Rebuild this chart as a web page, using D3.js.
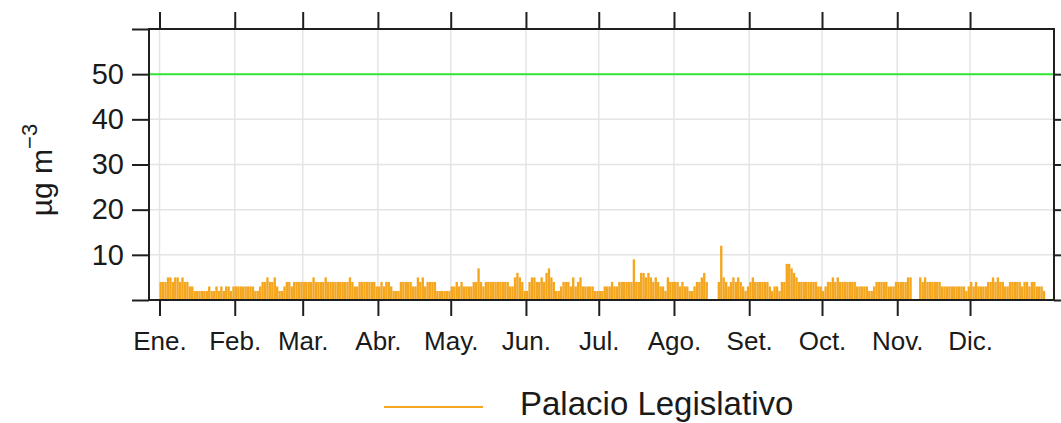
<!DOCTYPE html>
<html>
<head>
<meta charset="utf-8">
<script src="https://cdn.jsdelivr.net/npm/d3@7"></script>
<style>
  html, body { margin: 0; padding: 0; background: #fff; }
  svg { display: block; font-family: 'Liberation Sans', Arial, sans-serif; }
</style>
</head>
<body>
<div id="chart"></div>
<script>
// etiquetas de los meses
const monthLabels = ['Ene.', 'Feb.', 'Mar.', 'Abr.', 'May.', 'Jun.', 'Jul.', 'Ago.', 'Set.', 'Oct.', 'Nov.', 'Dic.'];

// promedios diarios (µg m-3), un arreglo por mes, null = sin dato
const ene = [4, 4, 4, 5, 5, 4, 5, 5, 4, 5, 4, 4, 3, 3, 2, 2, 2, 2, 2, 2, 3, 2, 2, 3, 2, 3, 2, 3, 3, 2, 3];
const feb = [3, 3, 3, 3, 3, 3, 3, 3, 2, 2, 3, 4, 4, 5, 4, 4, 5, 3, 2, 2, 3, 4, 4, 3, 4, 4, 4, 4];
const mar = [4, 4, 4, 4, 5, 4, 4, 4, 4, 5, 4, 4, 4, 4, 4, 4, 4, 4, 4, 5, 4, 3, 3, 4, 4, 4, 4, 4, 4, 4, 3];
const abr = [3, 4, 3, 4, 4, 3, 2, 2, 2, 4, 4, 4, 4, 4, 3, 3, 5, 4, 5, 3, 4, 4, 4, 4, 2, 2, 2, 2, 2, 2];
const may = [3, 3, 4, 3, 4, 3, 3, 3, 3, 4, 4, 7, 4, 3, 4, 4, 4, 4, 4, 4, 4, 4, 4, 4, 3, 3, 5, 6, 5, 4, 2];
const jun = [2, 4, 5, 5, 4, 4, 5, 4, 6, 7, 5, 4, 2, 2, 3, 4, 4, 4, 3, 5, 3, 4, 5, 3, 3, 3, 3, 3, 2, 2];
const jul = [2, 2, 3, 3, 3, 4, 3, 3, 4, 4, 4, 4, 4, 4, 9, 4, 4, 6, 6, 5, 6, 5, 4, 5, 4, 3, 3, 2, 5, 4, 4];
const ago = [4, 4, 3, 4, 3, 3, 2, 2, 3, 4, 4, 5, 6, 4, null, null, null, null, 4, 12, 5, 4, 3, 4, 5, 4, 5, 4, 3, 2, 3];
const set = [4, 5, 4, 4, 4, 4, 4, 4, 3, 2, 3, 3, 2, 4, 4, 8, 8, 7, 6, 5, 4, 4, 4, 4, 4, 4, 4, 4, 3, 3];
const oct = [2, 3, 4, 4, 5, 4, 5, 4, 4, 4, 4, 4, 4, 4, 3, 3, 3, 3, 3, 2, 2, 3, 4, 4, 4, 4, 4, 3, 3, 3, 4];
const nov = [4, 4, 4, 4, 5, 5, null, null, null, 5, 4, 5, 4, 4, 4, 4, 4, 4, 3, 3, 3, 3, 3, 3, 3, 3, 3, 3, 2, 3];
const dic = [4, 3, 4, 3, 3, 3, 3, 4, 4, 5, 4, 5, 4, 4, 3, 3, 4, 4, 4, 4, 4, 3, 4, 4, 3, 4, 4, 3, 3, 3, 2];

// valor guía (línea verde)
const limitValue = 50;
const yTicks = [0, 10, 20, 30, 40, 50, 60];
const yTickLabels = ['', '10', '20', '30', '40', '50', ''];
const seriesName = 'Palacio Legislativo';

const WIDTH = 1061;
const HEIGHT = 423;
const LEFT = 149;
const RIGHT = 1054;
const TOP = 29;
const BOTTOM = 300;
const BAR_COLOR = '#f4a61f';
const LINE_COLOR = '#33e633';
const AXIS_COLOR = '#1f1f1f';
const GRID_COLOR = '#e4e4e4';
const DAY = 864e5;

const yearStart = new Date(Date.UTC(2019, 0, 1));
const yearEnd = new Date(Date.UTC(2020, 0, 1));

const data = [ene, feb, mar, abr, may, jun, jul, ago, set, oct, nov, dic]
  .flat()
  .map((value, i) => ({ date: d3.utcDay.offset(yearStart, i), value: value }));

const x = d3
  .scaleUtc()
  .domain([new Date(yearStart.getTime() - 4.33 * DAY), new Date(yearStart.getTime() + 368.6 * DAY)])
  .range([LEFT, RIGHT]);

const y = d3.scaleLinear().domain([0, 60]).range([BOTTOM, TOP]);

const monthTicks = d3.utcMonths(yearStart, yearEnd);

const svg = d3
  .select('#chart')
  .append('svg')
  .attr('width', WIDTH)
  .attr('height', HEIGHT);

// grilla
svg
  .append('g')
  .selectAll('line')
  .data(monthTicks)
  .enter()
  .append('line')
  .attr('x1', (d) => x(d))
  .attr('x2', (d) => x(d))
  .attr('y1', TOP)
  .attr('y2', BOTTOM)
  .attr('stroke', GRID_COLOR)
  .attr('stroke-width', 1.5);

svg
  .append('g')
  .selectAll('line')
  .data(yTicks.slice(1, -1))
  .enter()
  .append('line')
  .attr('x1', LEFT)
  .attr('x2', RIGHT)
  .attr('y1', (d) => y(d))
  .attr('y2', (d) => y(d))
  .attr('stroke', GRID_COLOR)
  .attr('stroke-width', 1.5);

// barras diarias
svg
  .append('g')
  .selectAll('rect')
  .data(data.filter((d) => d.value !== null))
  .enter()
  .append('rect')
  .attr('x', (d) => x(d.date))
  .attr('width', (d) => (x(d3.utcDay.offset(d.date, 1)) - x(d.date)) * 0.97)
  .attr('y', (d) => y(d.value))
  .attr('height', (d) => y(0) - y(d.value))
  .attr('fill', BAR_COLOR);

// línea del límite
svg
  .append('line')
  .attr('x1', LEFT)
  .attr('x2', RIGHT)
  .attr('y1', y(limitValue))
  .attr('y2', y(limitValue))
  .attr('stroke', LINE_COLOR)
  .attr('stroke-width', 2);

// ejes
const axisBottom = svg
  .append('g')
  .attr('transform', `translate(0,${BOTTOM})`)
  .call(d3.axisBottom(x).tickValues(monthTicks).tickSize(16).tickPadding(16).tickFormat((d, i) => monthLabels[i]));

const axisTop = svg
  .append('g')
  .attr('transform', `translate(0,${TOP})`)
  .call(d3.axisTop(x).tickValues(monthTicks).tickSize(17).tickFormat(''));

const axisLeft = svg
  .append('g')
  .attr('transform', `translate(${LEFT},0)`)
  .call(d3.axisLeft(y).tickValues(yTicks).tickSize(17).tickPadding(8).tickFormat((d, i) => yTickLabels[i]));

const axisRight = svg
  .append('g')
  .attr('transform', `translate(${RIGHT},0)`)
  .call(d3.axisRight(y).tickValues(yTicks.slice(0, -1)).tickSize(10).tickFormat(''));

[axisBottom, axisTop, axisLeft, axisRight].forEach((g) => {
  g.select('.domain').remove();
  g.selectAll('line').attr('stroke', AXIS_COLOR).attr('stroke-width', 2);
  g.selectAll('text')
    .attr('fill', '#1a1a1a')
    .attr('font-size', 26)
    .attr('font-family', "'Liberation Sans', Arial, sans-serif");
});

// los números del eje y se ven algo más grandes
axisLeft.selectAll('text').attr('font-size', 29);

// marco
svg
  .append('rect')
  .attr('x', LEFT)
  .attr('y', TOP)
  .attr('width', RIGHT - LEFT)
  .attr('height', BOTTOM - TOP)
  .attr('fill', 'none')
  .attr('stroke', AXIS_COLOR)
  .attr('stroke-width', 2);

// título del eje y
const yTitle = svg
  .append('text')
  .attr('transform', 'translate(52,170) rotate(-90)')
  .attr('text-anchor', 'middle')
  .attr('font-size', 30)
  .attr('fill', '#1a1a1a');
yTitle.append('tspan').text('µg m');
yTitle.append('tspan').attr('font-size', 22).attr('dy', -15).text('−3');

// leyenda
svg
  .append('line')
  .attr('x1', 384)
  .attr('x2', 483)
  .attr('y1', 407)
  .attr('y2', 407)
  .attr('stroke', BAR_COLOR)
  .attr('stroke-width', 2);

svg
  .append('text')
  .attr('x', 520)
  .attr('y', 415)
  .attr('font-size', 33)
  .attr('fill', '#1a1a1a')
  .text(seriesName);
</script>
</body>
</html>
